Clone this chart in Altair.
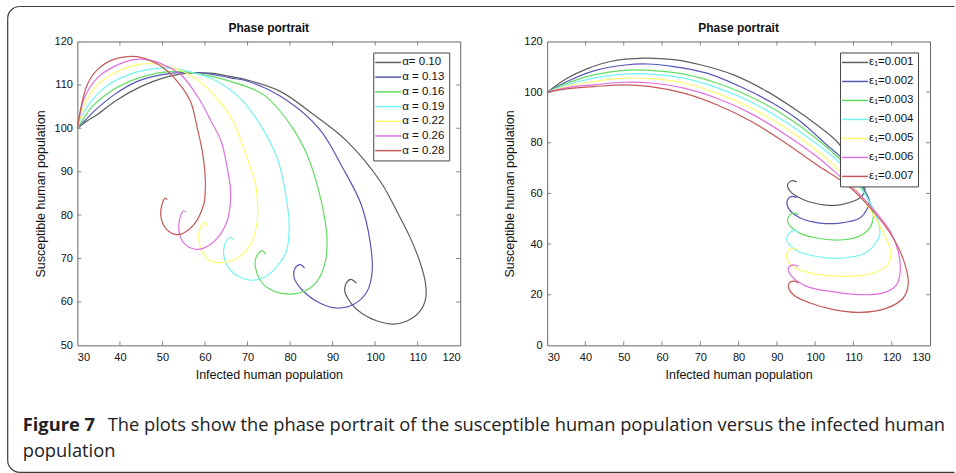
import altair as alt
import pandas as pd

FONT = "Liberation Sans"
CAP_FONT = "Open Sans"

ALPHA_LABELS = ["α= 0.10", "α = 0.13", "α = 0.16", "α = 0.19", "α = 0.22", "α = 0.26", "α = 0.28"]
EPS_LABELS = ["ε₁=0.001", "ε₁=0.002", "ε₁=0.003", "ε₁=0.004", "ε₁=0.005", "ε₁=0.006", "ε₁=0.007"]
COLORS = ["#5e5e5e", "#5858b8", "#62dd62", "#74f4f4", "#fcfc70", "#e070e0", "#c55a5a"]

L_X_TICKS = [30, 40, 50, 60, 70, 80, 90, 100, 110, 120]
L_Y_TICKS = [50, 60, 70, 80, 90, 100, 110, 120]
R_X_TICKS = [30, 40, 50, 60, 70, 80, 90, 100, 110, 120, 130]
R_Y_TICKS = [0, 20, 40, 60, 80, 100, 120]

# ---- left panel: alpha curves ----
A010_X = [30, 32, 34.7, 39.4, 44.9, 50.3, 55.8, 61.3, 66, 70, 77.7, 85.6, 93.4, 101.2, 105.1, 108.3, 110.6, 111.8, 111.9, 110.5, 107.5, 104.3, 100.5, 97, 94.6, 92.9, 93.2, 94.3, 95.6]
A010_Y = [100, 101.5, 103.2, 106.6, 109.6, 111.6, 112.7, 112.7, 111.9, 111.1, 108.5, 103.1, 97.0, 87.8, 80.9, 74.7, 69, 64.5, 60.9, 57.8, 55.6, 54.9, 55.6, 57.3, 59.4, 62.3, 64.3, 65.2, 64.3]
A013_X = [30, 31.8, 33.9, 38.6, 44.1, 49.6, 55, 61.3, 66, 69.9, 79.3, 87.1, 92.2, 96.7, 98.8, 99.3, 98.1, 94.9, 91, 87.1, 83.2, 81, 81.2, 82.4, 83.4]
A013_Y = [100, 101.8, 103.9, 107.7, 110.8, 112.3, 112.9, 112.5, 111.6, 110.9, 106.4, 99.6, 91.2, 82.5, 74, 67, 62.4, 59.4, 58.6, 59.7, 62.4, 65.5, 67.8, 68.6, 67.8]
A016_X = [30, 31.5, 33.1, 37.8, 43.3, 48.8, 53.5, 59.7, 66, 73.8, 80.1, 84, 86.5, 88.1, 88.7, 88.3, 86.3, 83.2, 80.1, 77, 73.8, 71.9, 72.1, 73.4, 74.2]
A016_Y = [100, 102.3, 104.6, 108.5, 111.2, 112.7, 113.1, 112.3, 110.8, 107.7, 100.8, 93.9, 86.5, 79.5, 74, 69.3, 64.7, 62.4, 61.8, 62.2, 64, 67.8, 70.5, 71.8, 71]
A019_X = [30, 31, 32.3, 36.2, 40.9, 46.4, 51.9, 56.6, 62.1, 68.3, 73, 77, 79.1, 79.8, 79.1, 76.6, 73.5, 71, 68.3, 65.6, 64.4, 64.8, 66, 66.6]
A019_Y = [100, 102.8, 105, 109.2, 111.9, 113.5, 113.9, 113, 111.2, 106.9, 100.8, 93.1, 84, 77.5, 71.6, 67.8, 65.5, 65, 65.7, 67.8, 70.9, 73.6, 74.9, 74.3]
A022_X = [30, 30.8, 31.6, 34.7, 39.4, 44.9, 48.8, 52.7, 56.6, 62.1, 66.4, 69.9, 71.9, 72.4, 72.3, 70.7, 67.6, 63.6, 60.9, 59, 58.6, 59.3, 60.1, 60.5]
A022_Y = [100, 102.8, 105.4, 110, 113.1, 114.8, 114.8, 113.9, 112.2, 107.7, 102, 93.1, 87, 81.6, 78.6, 73.2, 70.1, 69, 69.7, 72.4, 75.9, 77.8, 78.2, 77.4]
A026_X = [30, 30.7, 31.6, 34.7, 38.6, 43.3, 46.4, 50.3, 54.3, 58.6, 61.5, 63.8, 65.2, 66, 65.9, 65.2, 62.9, 59.7, 57.4, 55, 53.9, 54.1, 55, 55.5]
A026_Y = [100, 103.5, 106.9, 111.6, 114.2, 115.8, 115.8, 114.6, 112.4, 106.8, 101.5, 97, 91, 86, 82, 78.6, 74.7, 72.4, 72.2, 73.6, 76.3, 79.3, 81, 80.7]
A028_X = [30, 30.8, 32.3, 34.7, 37.8, 41.7, 44.1, 47.2, 50.3, 53.5, 56.6, 58.2, 59.5, 60.1, 60, 59.7, 57.4, 55, 53.3, 51.1, 49.7, 50, 50.7, 51.1]
A028_Y = [100, 104.6, 110, 113.5, 115.6, 116.5, 116.5, 115.6, 113.9, 110.8, 106.2, 100, 94, 88, 84.5, 82.4, 77.8, 75.9, 75.5, 76.6, 79.3, 82.8, 83.9, 83.5]

# ---- right panel: epsilon_1 curves ----
E001_X = [30, 35.2, 40.4, 46.5, 55.2, 63, 70, 78.7, 87.4, 94.3, 100.4, 105.7, 109.5, 112, 113, 112.3, 110.9, 106.5, 102.2, 97, 93.5, 92.8, 93.9, 95.2]
E001_Y = [100, 105.5, 109.2, 112.1, 113.4, 112.8, 110.8, 106.8, 100.3, 93.7, 87.1, 80.5, 72, 66, 62, 59, 57.5, 55.5, 55.5, 57.5, 60.8, 63.4, 65, 64.5]
E002_X = [30, 35.2, 42.2, 50.9, 56.1, 63, 71.7, 80.4, 89.1, 96.1, 103, 106.5, 110, 113, 114.2, 113.7, 111.7, 106.5, 101.3, 96.1, 93, 92.8, 93.9, 95.2]
E002_Y = [100, 104.2, 108.4, 110.8, 111.1, 110.1, 107.5, 102.2, 95.5, 88.5, 79.2, 74.6, 68, 61, 57, 54.2, 50.3, 48.3, 48.3, 50.3, 54.2, 57.5, 58.8, 58.4]
E003_X = [30, 35.2, 42.2, 50, 57, 65.7, 74.3, 83, 91.7, 99.6, 106.5, 111, 114, 115.2, 114.5, 112, 107.4, 100.4, 95.2, 92.8, 93.5, 94.8, 95.6]
E003_Y = [100, 103.5, 106.8, 108.6, 108.6, 107.1, 103.6, 98.3, 91.1, 82.5, 73.5, 65, 57, 51, 47, 43.5, 41.7, 42.4, 45, 48.9, 51.6, 52.2, 51.6]
E004_X = [30, 35.2, 42.2, 50, 57, 65.7, 74.3, 83, 91.7, 99.6, 106.5, 111, 114.5, 116.6, 116.9, 116.1, 113, 107.4, 100.4, 94.8, 92.6, 93.5, 94.8, 95.6]
E004_Y = [100, 102.9, 105.5, 107.1, 107.1, 105.5, 101.8, 96.3, 88.8, 80.5, 72, 64, 56, 48, 44, 41, 36.4, 34.5, 35.1, 37.8, 41.7, 44.7, 45.4, 44.6]
E005_X = [30, 35.2, 42.2, 50, 57, 65.7, 74.3, 83, 91.7, 99.6, 106.5, 111, 115, 118.3, 119.8, 118.5, 113.5, 107.4, 100.4, 94.8, 92.6, 93, 94.3, 95.4]
E005_Y = [100, 102.3, 104.2, 105.5, 105.3, 103.6, 99.6, 93.9, 86.4, 77.9, 68.7, 61, 52, 43, 36, 31, 27.9, 27.2, 28.1, 30.5, 34.5, 37.4, 38.4, 37.8]
E006_X = [30, 35.2, 42.2, 50, 57, 65.7, 74.3, 83, 91.7, 100.4, 106.5, 111.7, 116.1, 119.6, 121.7, 122.2, 121.3, 117.8, 111.7, 104.8, 97.8, 93.9, 93, 94.3, 95.6]
E006_Y = [100, 101.8, 102.9, 103.9, 103.6, 101.6, 97.6, 91.7, 83.8, 74.6, 66.7, 59.5, 52.2, 45, 37.1, 29.2, 24, 20.7, 20, 21.1, 23.3, 27.2, 30.5, 31.8, 31.2]
E007_X = [30, 35.2, 42.2, 50, 57, 65.7, 74.3, 83, 91.7, 100.4, 108.3, 115.2, 120.4, 123.5, 124.3, 123, 118.7, 111.7, 104.8, 98.7, 94.3, 93, 93.5, 94.8, 95.7]
E007_Y = [100, 101.3, 102.2, 102.9, 102.2, 99.6, 95, 88.7, 80.5, 71.3, 63.4, 52.9, 42.4, 31.8, 24, 18.7, 14.7, 13, 14.1, 16.7, 20, 23.3, 25, 25.3, 24.6]

PANEL_TITLE = "Phase portrait"
CAPTION_BOLD = "Figure 7"
CAPTION_LINE1 = "The plots show the phase portrait of the susceptible human population versus the infected human"
CAPTION_LINE2 = "population"

PANEL_W, PANEL_H = 383, 304
# legend key: a horizontal stroke symbol, stretched so the key is ~26 px long
KEY_PATH = "M -2.6 0 L 2.6 0"


def build_df(curves, labels):
    rows = []
    for lab, (xs, ys) in zip(labels, curves):
        for i, (xv, yv) in enumerate(zip(xs, ys)):
            rows.append({"series": lab, "x": xv, "y": yv, "i": i})
    return pd.DataFrame(rows)


one = pd.DataFrame({"k": [0]})


def panel(curves, labels, xdom, ydom, xticks, yticks, legend_x, legend_y, row_pad, extra=()):
    df = build_df(curves, labels)

    def X():
        return alt.X("x:Q", scale=alt.Scale(domain=xdom, nice=False, zero=False),
                     axis=alt.Axis(values=xticks, title="Infected human population", grid=False,
                                   ticks=False, domain=False, labelPadding=6, titlePadding=6, format="d"))

    def Y():
        return alt.Y("y:Q", scale=alt.Scale(domain=ydom, nice=False, zero=False),
                     axis=alt.Axis(values=yticks, title="Susceptible human population", grid=False,
                                   ticks=False, domain=False, labelPadding=5, titlePadding=7, format="d"))

    lines = alt.Chart(df).mark_line(strokeWidth=1.2, interpolate="catmull-rom").encode(
        x=X(), y=Y(),
        color=alt.Color("series:N", scale=alt.Scale(domain=labels, range=COLORS),
                        legend=alt.Legend(orient="none", legendX=legend_x, legendY=legend_y, title=None,
                                          symbolType=KEY_PATH, symbolSize=100, symbolStrokeWidth=1.5,
                                          symbolOffset=5, labelOffset=8,
                                          labelFont=FONT, labelFontSize=11.5, labelColor="#111",
                                          strokeColor="#444", fillColor="white", padding=4,
                                          rowPadding=row_pad)),
        order="i:Q")

    inner_x = xticks[1:-1]
    inner_y = yticks[1:-1]
    vt = pd.DataFrame({"x": inner_x + inner_x, "y": [ydom[0]] * len(inner_x) + [ydom[1]] * len(inner_x)})
    ht = pd.DataFrame({"x": [xdom[0]] * len(inner_y) + [xdom[1]] * len(inner_y), "y": inner_y + inner_y})
    tv = alt.Chart(vt).mark_tick(orient="vertical", size=8, thickness=1, clip=True, color="#555").encode(x=X(), y=Y())
    th = alt.Chart(ht).mark_tick(orient="horizontal", size=8, thickness=1, clip=True, color="#555").encode(x=X(), y=Y())

    title = alt.Chart(one).mark_text(text=PANEL_TITLE, font=FONT, fontSize=12, fontWeight="bold",
                                     align="center", baseline="middle", color="#111").encode(
        x=alt.value(PANEL_W / 2), y=alt.value(-13))

    return alt.layer(lines, tv, th, title, *extra).properties(width=PANEL_W, height=PANEL_H)


FRAME_C = "#3c3c3c"
FL, FT, FB, FR, RAD = -69.7, -35, 431, 877.5, 12

frame = [
    alt.Chart(one).mark_rule(color=FRAME_C, strokeWidth=1.2).encode(
        x=alt.value(FL + RAD), x2=alt.value(FR), y=alt.value(FT)),
    alt.Chart(one).mark_rule(color=FRAME_C, strokeWidth=1.2).encode(
        x=alt.value(FL + RAD), x2=alt.value(FR), y=alt.value(FB)),
    alt.Chart(one).mark_rule(color=FRAME_C, strokeWidth=1.2).encode(
        x=alt.value(FL), y=alt.value(FT + RAD), y2=alt.value(FB - RAD)),
    alt.Chart(one).mark_arc(theta=4.712389, theta2=6.283185, radius=RAD + 0.6, radius2=RAD - 0.6,
                            color=FRAME_C).encode(x=alt.value(FL + RAD), y=alt.value(FT + RAD)),
    alt.Chart(one).mark_arc(theta=3.141593, theta2=4.712389, radius=RAD + 0.6, radius2=RAD - 0.6,
                            color=FRAME_C).encode(x=alt.value(FL + RAD), y=alt.value(FB - RAD)),
]
CAP_SIZE = 18.3
caption = [
    alt.Chart(one).mark_text(text=CAPTION_BOLD, font=CAP_FONT, fontSize=CAP_SIZE, fontWeight="bold",
                             align="left", baseline="alphabetic", color="#222").encode(
        x=alt.value(-54.7), y=alt.value(389.5)),
    alt.Chart(one).mark_text(text=CAPTION_LINE1, font=CAP_FONT, fontSize=CAP_SIZE, align="left",
                             baseline="alphabetic", color="#222").encode(
        x=alt.value(30.3), y=alt.value(389.5)),
    alt.Chart(one).mark_text(text=CAPTION_LINE2, font=CAP_FONT, fontSize=CAP_SIZE, align="left",
                             baseline="alphabetic", color="#222").encode(
        x=alt.value(-54.7), y=alt.value(415.5)),
]

left = panel([(A010_X, A010_Y), (A013_X, A013_Y), (A016_X, A016_Y), (A019_X, A019_Y),
              (A022_X, A022_Y), (A026_X, A026_Y), (A028_X, A028_Y)],
             ALPHA_LABELS, [30, 120], [50, 120], L_X_TICKS, L_Y_TICKS, 296, 11, 2.7,
             extra=frame + caption)
right = panel([(E001_X, E001_Y), (E002_X, E002_Y), (E003_X, E003_Y), (E004_X, E004_Y),
               (E005_X, E005_Y), (E006_X, E006_Y), (E007_X, E007_Y)],
              EPS_LABELS, [30, 130], [0, 120], R_X_TICKS, R_Y_TICKS, 293, 11, 7.0)

chart = alt.hconcat(left, right, spacing=87, bounds="flush").resolve_scale(
    color="independent"
).resolve_legend(color="independent").properties(
    padding={"left": 6.4, "top": 4.4, "right": 0, "bottom": 0},
    background="white",
).configure_view(stroke="#666", strokeWidth=1).configure_axis(
    labelFont=FONT, titleFont=FONT, labelFontSize=11, titleFontSize=12.5,
    labelColor="#111", titleColor="#111", titleFontWeight="normal"
)

chart.save("out.html", embed_options={"renderer": "svg", "actions": False})
